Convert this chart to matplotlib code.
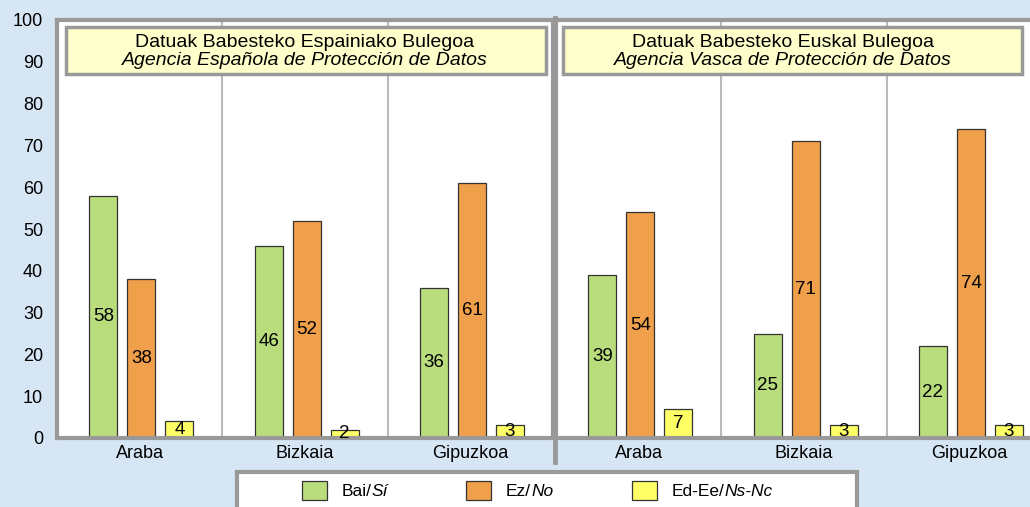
import matplotlib.pyplot as plt
from matplotlib.patches import Rectangle
from matplotlib.lines import Line2D

plt.rcParams['font.family'] = ['Liberation Sans', 'DejaVu Sans']

# Datuak
lurraldeak = ['Araba', 'Bizkaia', 'Gipuzkoa']
espainiako_bai = [58, 46, 36]
espainiako_ez = [38, 52, 61]
espainiako_ed = [4, 2, 3]
euskal_bai = [39, 25, 22]
euskal_ez = [54, 71, 74]
euskal_ed = [7, 3, 3]

izenburuak = [('Datuak Babesteko Espainiako Bulegoa', 'Agencia Española de Protección de Datos'),
              ('Datuak Babesteko Euskal Bulegoa', 'Agencia Vasca de Protección de Datos')]
legenda_eu = ['Bai/', 'Ez/', 'Ed-Ee/']
legenda_es = ['Sí', 'No', 'Ns-Nc']
koloreak = ['#b9dc7d', '#f09f4a', '#ffff66']

W, H = 1030, 507
fig = plt.figure(figsize=(W / 100, H / 100), dpi=100)
fig.patch.set_facecolor('#d6e6f4')

y0, y1 = 438, 20
panelak = [(57, 553), (556, 1052)]
kutxak = [(0.018, 0.986, 0.5), (0.014, 0.94, 0.457)]
datuak = [(espainiako_bai, espainiako_ez, espainiako_ed),
          (euskal_bai, euskal_ez, euskal_ed)]

for p, (xa, xb) in enumerate(panelak):
    ax = fig.add_axes([xa / W, (H - y0) / H, (xb - xa) / W, (y0 - y1) / H])
    ax.set_xlim(0, 3)
    ax.set_ylim(0, 100)
    for s in ax.spines.values():
        s.set_color('#999999')
        s.set_linewidth(3)
    for g in [1, 2]:
        ax.axvline(g, color='#bbbbbb', lw=1.5, zorder=0)
    offs = [-0.22, 0.01, 0.24]
    for k, serie in enumerate(datuak[p]):
        xs = [i + 0.5 + offs[k] for i in range(3)]
        ax.bar(xs, serie, width=0.168, color=koloreak[k], edgecolor='#333333', lw=0.9, zorder=2)
        for x, v in zip(xs, serie):
            ax.text(x, v / 2, str(v), ha='center', va='center', fontsize=13.5, zorder=3)
    ax.set_xticks([0.5, 1.5, 2.5])
    ax.set_xticklabels(lurraldeak, fontsize=13)
    ax.tick_params(axis='x', length=0, pad=5)
    if p == 0:
        ax.set_yticks(range(0, 101, 10))
        ax.tick_params(axis='y', length=0, labelsize=13, pad=10)
    else:
        ax.set_yticks([])
    # izenburu kutxa
    b0, b1, tc = kutxak[p]
    ax.add_patch(Rectangle((b0, 0.871), b1 - b0, 0.112, transform=ax.transAxes,
                           facecolor='#ffffcc', edgecolor='#999999', lw=2.5, zorder=4))
    ax.text(tc, 0.947, izenburuak[p][0], transform=ax.transAxes,
            ha='center', va='center', fontsize=14, zorder=5)
    ax.text(tc, 0.902, izenburuak[p][1], transform=ax.transAxes,
            ha='center', va='center', fontsize=14, style='italic', zorder=5)

# panelen arteko marra
fig.add_artist(Line2D([554.5 / W, 554.5 / W], [(H - 462) / H, (H - 18) / H],
                      color='#999999', lw=3.5))

# legenda
fig.add_artist(Rectangle((237 / W, -10 / H), 620 / W, 45 / H, transform=fig.transFigure,
                         facecolor='white', edgecolor='#999999', lw=3))
esku_x = [302, 466, 632]
for k in range(3):
    fig.add_artist(Rectangle((esku_x[k] / W, (H - 500) / H), 25 / W, 19 / H,
                             transform=fig.transFigure, facecolor=koloreak[k],
                             edgecolor='#333333', lw=0.9))
    t = fig.text((esku_x[k] + 40) / W, (H - 491) / H, legenda_eu[k], fontsize=12.5,
                 ha='left', va='center')
    fig.canvas.draw()
    bb = t.get_window_extent()
    fig.text(bb.x1 / W, (H - 491) / H, legenda_es[k], fontsize=12.5, style='italic',
             ha='left', va='center')

fig.savefig('out.png', dpi=100, facecolor=fig.get_facecolor())
